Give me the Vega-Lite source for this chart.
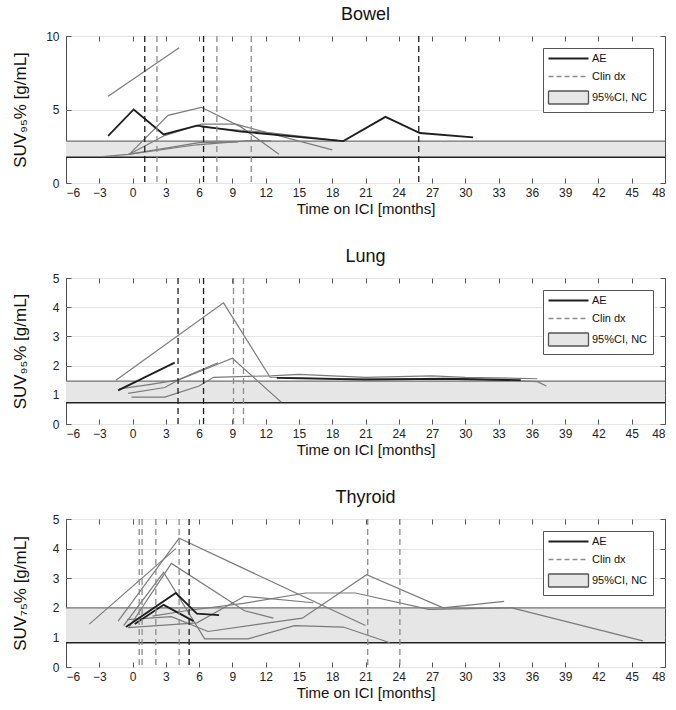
{
  "$schema": "https://vega.github.io/schema/vega-lite/v6.json",
  "padding": {"left": 10, "top": 5, "right": 5, "bottom": 3},
  "spacing": 30,
  "resolve": {"scale": {"color": "independent"}, "legend": {"color": "independent"}},
  "config": {
    "font": "Liberation Sans",
    "view": {"stroke": "#4a4a4a", "strokeWidth": 1},
    "axis": {"labelFontSize": 12, "labelColor": "#222", "titleColor": "#111", "titleFontWeight": "normal", "domain": false, "tickColor": "#555", "labelFont": "Liberation Sans", "titleFont": "Liberation Sans"},
    "title": {"fontSize": 18, "fontWeight": "normal", "color": "#111", "offset": 6, "font": "Liberation Sans"},
    "legend": {"orient": "top-right", "offset": 12, "title": null, "strokeColor": "#555", "fillColor": "white", "padding": 5, "labelFont": "Liberation Sans", "labelFontSize": 11, "labelColor": "#111", "symbolSize": 100, "rowPadding": 6, "labelOffset": 33}
  },
  "vconcat": [
    {
      "title": "Bowel",
      "width": 599, "height": 147,
      "resolve": {"axis": {"x": "independent", "y": "independent"}},
      "layer": [
        {
          "data": {"values": [{"lo": 1.75, "hi": 2.85, "k": "95%CI, NC"}]},
          "mark": {"type": "rect"},
          "encoding": {
            "y": {"field": "lo", "type": "quantitative", "scale": {"domain": [0, 10], "nice": false}, "axis": {"orient": "right", "values": [0, 5, 10], "labels": false, "title": null, "tickSize": -5, "grid": false}},
            "y2": {"field": "hi"},
            "color": {"field": "k", "type": "nominal", "scale": {"domain": ["AE", "Clin dx", "95%CI, NC"], "range": ["#1e1e1e", "#8c8c8c", "#e6e6e6"]},
              "legend": {"encode": {"symbols": {"update": {
                "shape": {"signal": "datum.label == '95%CI, NC' ? 'M-1,-1.3H7V1.3H-1Z' : 'M-1,0H7'"},
                "fill": {"signal": "datum.label == '95%CI, NC' ? '#e6e6e6' : 'transparent'"},
                "stroke": {"signal": "datum.label == '95%CI, NC' ? '#555' : (datum.label == 'AE' ? '#1e1e1e' : '#8c8c8c')"},
                "strokeWidth": {"signal": "datum.label == 'AE' ? 2 : 1.3"},
                "strokeDash": {"signal": "datum.label == 'Clin dx' ? [5, 3] : [1, 0]"},
                "opacity": {"value": 1}
              }}}}}
          }
        },
        {
          "data": {"values": [{"lo": 1.75, "hi": 2.85}]},
          "mark": {"type": "rule", "color": "#707070", "strokeWidth": 1.2},
          "encoding": {"y": {"field": "hi", "type": "quantitative", "axis": null}}
        },
        {
          "data": {"values": [{"lo": 1.75, "hi": 2.85}]},
          "mark": {"type": "rule", "color": "#222", "strokeWidth": 1.6},
          "encoding": {"y": {"field": "lo", "type": "quantitative", "axis": null}}
        },
        {
          "data": {"values": [
            {"id": "b1", "t": -2.2, "v": 5.9}, {"id": "b1", "t": 4.2, "v": 9.2},
            {"id": "b3", "t": -0.3, "v": 1.95}, {"id": "b3", "t": 3.2, "v": 4.6}, {"id": "b3", "t": 6.2, "v": 5.15}, {"id": "b3", "t": 9.8, "v": 3.8}, {"id": "b3", "t": 13.2, "v": 1.95},
            {"id": "b4", "t": -0.3, "v": 1.95}, {"id": "b4", "t": 2.8, "v": 3.2}, {"id": "b4", "t": 6.2, "v": 4.0}, {"id": "b4", "t": 9.3, "v": 4.0}, {"id": "b4", "t": 18, "v": 2.25},
            {"id": "b5", "t": -2.7, "v": 1.8}, {"id": "b5", "t": -0.4, "v": 1.95}, {"id": "b5", "t": 5.8, "v": 2.6}, {"id": "b5", "t": 10.8, "v": 2.9}, {"id": "b5", "t": 12.5, "v": 2.85},
            {"id": "b6", "t": -0.4, "v": 1.95}, {"id": "b6", "t": 6, "v": 2.75}, {"id": "b6", "t": 9.5, "v": 2.8},
            {"id": "b7", "t": 6.2, "v": 3.8}, {"id": "b7", "t": 12, "v": 3.45}, {"id": "b7", "t": 18.5, "v": 2.9}
          ]},
          "mark": {"type": "line", "color": "#7a7a7a", "strokeWidth": 1.2},
          "encoding": {
            "x": {"field": "t", "type": "quantitative", "scale": {"domain": [-6, 48], "nice": false}, "axis": {"orient": "bottom", "values": [-6, -3, 0, 3, 6, 9, 12, 15, 18, 21, 24, 27, 30, 33, 36, 39, 42, 45, 48], "title": "Time on ICI [months]", "titleFontSize": 15, "grid": false, "tickSize": -5, "labelPadding": 9, "titlePadding": 3}},
            "y": {"field": "v", "type": "quantitative", "axis": {"orient": "left", "values": [0, 5, 10], "title": "SUV₉₅% [g/mL]", "titleFontSize": 17, "grid": true, "gridColor": "#e4e4e4", "tickSize": -5, "labelPadding": 12, "titlePadding": 16}},
            "detail": {"field": "id", "type": "nominal"}
          }
        },
        {
          "data": {"values": [
            {"id": "a1", "t": -2.2, "v": 3.2}, {"id": "a1", "t": 0.1, "v": 5.0}, {"id": "a1", "t": 2.8, "v": 3.3}, {"id": "a1", "t": 5.8, "v": 3.9}, {"id": "a1", "t": 9.8, "v": 3.5}, {"id": "a1", "t": 19, "v": 2.85}, {"id": "a1", "t": 22.8, "v": 4.5}, {"id": "a1", "t": 25.9, "v": 3.4}, {"id": "a1", "t": 30.7, "v": 3.1}
          ]},
          "mark": {"type": "line", "color": "#1e1e1e", "strokeWidth": 1.8},
          "encoding": {
            "x": {"field": "t", "type": "quantitative", "axis": null},
            "y": {"field": "v", "type": "quantitative", "axis": null},
            "detail": {"field": "id", "type": "nominal"}
          }
        },
        {
          "data": {"values": [
            {"t": 1.1, "ae": "AE"}, {"t": 2.2, "ae": "other"}, {"t": 6.4, "ae": "AE"}, {"t": 7.6, "ae": "other"}, {"t": 10.7, "ae": "other"}, {"t": 25.8, "ae": "AE"}
          ]},
          "mark": {"type": "rule", "strokeDash": [6, 4], "strokeWidth": 1.3},
          "encoding": {
            "x": {"field": "t", "type": "quantitative", "axis": {"orient": "top", "values": [-6, -3, 0, 3, 6, 9, 12, 15, 18, 21, 24, 27, 30, 33, 36, 39, 42, 45, 48], "labels": false, "title": null, "tickSize": -5, "grid": false}},
            "stroke": {"field": "ae", "type": "nominal", "scale": {"domain": ["AE", "other"], "range": ["#1e1e1e", "#8c8c8c"]}, "legend": null}
          }
        }
      ]
    },
    {
      "title": "Lung",
      "width": 599, "height": 146,
      "resolve": {"axis": {"x": "independent", "y": "independent"}},
      "layer": [
        {
          "data": {"values": [{"lo": 0.73, "hi": 1.47, "k": "95%CI, NC"}]},
          "mark": {"type": "rect"},
          "encoding": {
            "y": {"field": "lo", "type": "quantitative", "scale": {"domain": [0, 5], "nice": false}, "axis": {"orient": "right", "values": [0, 1, 2, 3, 4, 5], "labels": false, "title": null, "tickSize": -5, "grid": false}},
            "y2": {"field": "hi"},
            "color": {"field": "k", "type": "nominal", "scale": {"domain": ["AE", "Clin dx", "95%CI, NC"], "range": ["#1e1e1e", "#8c8c8c", "#e6e6e6"]},
              "legend": {"encode": {"symbols": {"update": {
                "shape": {"signal": "datum.label == '95%CI, NC' ? 'M-1,-1.3H7V1.3H-1Z' : 'M-1,0H7'"},
                "fill": {"signal": "datum.label == '95%CI, NC' ? '#e6e6e6' : 'transparent'"},
                "stroke": {"signal": "datum.label == '95%CI, NC' ? '#555' : (datum.label == 'AE' ? '#1e1e1e' : '#8c8c8c')"},
                "strokeWidth": {"signal": "datum.label == 'AE' ? 2 : 1.3"},
                "strokeDash": {"signal": "datum.label == 'Clin dx' ? [5, 3] : [1, 0]"},
                "opacity": {"value": 1}
              }}}}}
          }
        },
        {
          "data": {"values": [{"lo": 0.73, "hi": 1.47}]},
          "mark": {"type": "rule", "color": "#707070", "strokeWidth": 1.2},
          "encoding": {"y": {"field": "hi", "type": "quantitative", "axis": null}}
        },
        {
          "data": {"values": [{"lo": 0.73, "hi": 1.47}]},
          "mark": {"type": "rule", "color": "#222", "strokeWidth": 1.6},
          "encoding": {"y": {"field": "lo", "type": "quantitative", "axis": null}}
        },
        {
          "data": {"values": [
            {"id": "l1", "t": -1.5, "v": 1.5}, {"id": "l1", "t": 8.2, "v": 4.15}, {"id": "l1", "t": 12.4, "v": 1.6}, {"id": "l1", "t": 20, "v": 1.55}, {"id": "l1", "t": 30, "v": 1.55}, {"id": "l1", "t": 36.5, "v": 1.45}, {"id": "l1", "t": 37.3, "v": 1.3},
            {"id": "l3", "t": -1.2, "v": 1.2}, {"id": "l3", "t": 1.5, "v": 1.35}, {"id": "l3", "t": 4, "v": 1.5}, {"id": "l3", "t": 7.7, "v": 2.1},
            {"id": "l4", "t": -0.4, "v": 1.05}, {"id": "l4", "t": 2.9, "v": 1.25}, {"id": "l4", "t": 4.1, "v": 1.5}, {"id": "l4", "t": 9.0, "v": 2.25}, {"id": "l4", "t": 13.4, "v": 0.75},
            {"id": "l5", "t": -0.1, "v": 0.92}, {"id": "l5", "t": 2.9, "v": 0.92}, {"id": "l5", "t": 6, "v": 1.3}, {"id": "l5", "t": 7.3, "v": 1.6}, {"id": "l5", "t": 12.5, "v": 1.65}, {"id": "l5", "t": 15, "v": 1.7}, {"id": "l5", "t": 21, "v": 1.6}, {"id": "l5", "t": 27, "v": 1.65}, {"id": "l5", "t": 30, "v": 1.6}, {"id": "l5", "t": 36.5, "v": 1.55}
          ]},
          "mark": {"type": "line", "color": "#7a7a7a", "strokeWidth": 1.2},
          "encoding": {
            "x": {"field": "t", "type": "quantitative", "scale": {"domain": [-6, 48], "nice": false}, "axis": {"orient": "bottom", "values": [-6, -3, 0, 3, 6, 9, 12, 15, 18, 21, 24, 27, 30, 33, 36, 39, 42, 45, 48], "title": "Time on ICI [months]", "titleFontSize": 15, "grid": false, "tickSize": -5, "labelPadding": 9, "titlePadding": 3}},
            "y": {"field": "v", "type": "quantitative", "axis": {"orient": "left", "values": [0, 1, 2, 3, 4, 5], "title": "SUV₉₅% [g/mL]", "titleFontSize": 17, "grid": true, "gridColor": "#e4e4e4", "tickSize": -5, "labelPadding": 12, "titlePadding": 23}},
            "detail": {"field": "id", "type": "nominal"}
          }
        },
        {
          "data": {"values": [
            {"id": "a2", "t": -1.3, "v": 1.15}, {"id": "a2", "t": 3.8, "v": 2.1},
            {"id": "a3", "t": 13, "v": 1.58}, {"id": "a3", "t": 21, "v": 1.52}, {"id": "a3", "t": 28, "v": 1.55}, {"id": "a3", "t": 35, "v": 1.5}
          ]},
          "mark": {"type": "line", "color": "#1e1e1e", "strokeWidth": 1.8},
          "encoding": {
            "x": {"field": "t", "type": "quantitative", "axis": null},
            "y": {"field": "v", "type": "quantitative", "axis": null},
            "detail": {"field": "id", "type": "nominal"}
          }
        },
        {
          "data": {"values": [
            {"t": 4.1, "ae": "AE"}, {"t": 6.4, "ae": "AE"}, {"t": 9.1, "ae": "other"}, {"t": 10.0, "ae": "other"}
          ]},
          "mark": {"type": "rule", "strokeDash": [6, 4], "strokeWidth": 1.3},
          "encoding": {
            "x": {"field": "t", "type": "quantitative", "axis": {"orient": "top", "values": [-6, -3, 0, 3, 6, 9, 12, 15, 18, 21, 24, 27, 30, 33, 36, 39, 42, 45, 48], "labels": false, "title": null, "tickSize": -5, "grid": false}},
            "stroke": {"field": "ae", "type": "nominal", "scale": {"domain": ["AE", "other"], "range": ["#1e1e1e", "#8c8c8c"]}, "legend": null}
          }
        }
      ]
    },
    {
      "title": "Thyroid",
      "width": 599, "height": 148,
      "resolve": {"axis": {"x": "independent", "y": "independent"}},
      "layer": [
        {
          "data": {"values": [{"lo": 0.82, "hi": 2.0, "k": "95%CI, NC"}]},
          "mark": {"type": "rect"},
          "encoding": {
            "y": {"field": "lo", "type": "quantitative", "scale": {"domain": [0, 5], "nice": false}, "axis": {"orient": "right", "values": [0, 1, 2, 3, 4, 5], "labels": false, "title": null, "tickSize": -5, "grid": false}},
            "y2": {"field": "hi"},
            "color": {"field": "k", "type": "nominal", "scale": {"domain": ["AE", "Clin dx", "95%CI, NC"], "range": ["#1e1e1e", "#8c8c8c", "#e6e6e6"]},
              "legend": {"encode": {"symbols": {"update": {
                "shape": {"signal": "datum.label == '95%CI, NC' ? 'M-1,-1.3H7V1.3H-1Z' : 'M-1,0H7'"},
                "fill": {"signal": "datum.label == '95%CI, NC' ? '#e6e6e6' : 'transparent'"},
                "stroke": {"signal": "datum.label == '95%CI, NC' ? '#555' : (datum.label == 'AE' ? '#1e1e1e' : '#8c8c8c')"},
                "strokeWidth": {"signal": "datum.label == 'AE' ? 2 : 1.3"},
                "strokeDash": {"signal": "datum.label == 'Clin dx' ? [5, 3] : [1, 0]"},
                "opacity": {"value": 1}
              }}}}}
          }
        },
        {
          "data": {"values": [{"lo": 0.82, "hi": 2.0}]},
          "mark": {"type": "rule", "color": "#707070", "strokeWidth": 1.2},
          "encoding": {"y": {"field": "hi", "type": "quantitative", "axis": null}}
        },
        {
          "data": {"values": [{"lo": 0.82, "hi": 2.0}]},
          "mark": {"type": "rule", "color": "#222", "strokeWidth": 1.6},
          "encoding": {"y": {"field": "lo", "type": "quantitative", "axis": null}}
        },
        {
          "data": {"values": [
            {"id": "t1", "t": -3.9, "v": 1.45}, {"id": "t1", "t": 3.9, "v": 4.0},
            {"id": "t2", "t": -1.3, "v": 1.55}, {"id": "t2", "t": 4.2, "v": 4.35}, {"id": "t2", "t": 21.0, "v": 1.4},
            {"id": "t3", "t": -0.8, "v": 1.4}, {"id": "t3", "t": 2.8, "v": 3.2}, {"id": "t3", "t": 6.5, "v": 0.95}, {"id": "t3", "t": 10.4, "v": 0.95}, {"id": "t3", "t": 14.6, "v": 1.4}, {"id": "t3", "t": 19, "v": 1.35}, {"id": "t3", "t": 23.2, "v": 0.82},
            {"id": "t4", "t": -0.3, "v": 1.35}, {"id": "t4", "t": 3.5, "v": 3.5}, {"id": "t4", "t": 10.1, "v": 1.9}, {"id": "t4", "t": 12.7, "v": 1.65},
            {"id": "t7", "t": -0.4, "v": 1.33}, {"id": "t7", "t": 5.8, "v": 1.49}, {"id": "t7", "t": 10.1, "v": 2.39}, {"id": "t7", "t": 16.3, "v": 2.17},
            {"id": "t8", "t": -0.5, "v": 1.6}, {"id": "t8", "t": 3.5, "v": 1.7}, {"id": "t8", "t": 6.8, "v": 1.2}, {"id": "t8", "t": 15.3, "v": 1.65}, {"id": "t8", "t": 21.1, "v": 3.12}, {"id": "t8", "t": 28, "v": 2.0}, {"id": "t8", "t": 33.5, "v": 2.22},
            {"id": "t9", "t": 1.8, "v": 1.72}, {"id": "t9", "t": 4.8, "v": 1.9}, {"id": "t9", "t": 10, "v": 2.15}, {"id": "t9", "t": 15.6, "v": 2.5}, {"id": "t9", "t": 20.1, "v": 2.5}, {"id": "t9", "t": 26.7, "v": 1.95}, {"id": "t9", "t": 34.2, "v": 2.0}, {"id": "t9", "t": 46, "v": 0.88}
          ]},
          "mark": {"type": "line", "color": "#7a7a7a", "strokeWidth": 1.2},
          "encoding": {
            "x": {"field": "t", "type": "quantitative", "scale": {"domain": [-6, 48], "nice": false}, "axis": {"orient": "bottom", "values": [-6, -3, 0, 3, 6, 9, 12, 15, 18, 21, 24, 27, 30, 33, 36, 39, 42, 45, 48], "title": "Time on ICI [months]", "titleFontSize": 15, "grid": false, "tickSize": -5, "labelPadding": 9, "titlePadding": 3}},
            "y": {"field": "v", "type": "quantitative", "axis": {"orient": "left", "values": [0, 1, 2, 3, 4, 5], "title": "SUV₇₅% [g/mL]", "titleFontSize": 17, "grid": true, "gridColor": "#e4e4e4", "tickSize": -5, "labelPadding": 12, "titlePadding": 23}},
            "detail": {"field": "id", "type": "nominal"}
          }
        },
        {
          "data": {"values": [
            {"id": "a5", "t": -0.6, "v": 1.35}, {"id": "a5", "t": 3.9, "v": 2.5}, {"id": "a5", "t": 5.8, "v": 1.8}, {"id": "a5", "t": 7.8, "v": 1.75},
            {"id": "a6", "t": 0.2, "v": 1.45}, {"id": "a6", "t": 2.8, "v": 2.1}, {"id": "a6", "t": 5.5, "v": 1.55}
          ]},
          "mark": {"type": "line", "color": "#1e1e1e", "strokeWidth": 1.8},
          "encoding": {
            "x": {"field": "t", "type": "quantitative", "axis": null},
            "y": {"field": "v", "type": "quantitative", "axis": null},
            "detail": {"field": "id", "type": "nominal"}
          }
        },
        {
          "data": {"values": [
            {"t": 0.6, "ae": "other"}, {"t": 0.86, "ae": "other"}, {"t": 2.1, "ae": "other"}, {"t": 4.2, "ae": "other"}, {"t": 5.1, "ae": "AE"}, {"t": 21.2, "ae": "other"}, {"t": 24.1, "ae": "other"}
          ]},
          "mark": {"type": "rule", "strokeDash": [6, 4], "strokeWidth": 1.3},
          "encoding": {
            "x": {"field": "t", "type": "quantitative", "axis": {"orient": "top", "values": [-6, -3, 0, 3, 6, 9, 12, 15, 18, 21, 24, 27, 30, 33, 36, 39, 42, 45, 48], "labels": false, "title": null, "tickSize": -5, "grid": false}},
            "stroke": {"field": "ae", "type": "nominal", "scale": {"domain": ["AE", "other"], "range": ["#1e1e1e", "#8c8c8c"]}, "legend": null}
          }
        }
      ]
    }
  ]
}
